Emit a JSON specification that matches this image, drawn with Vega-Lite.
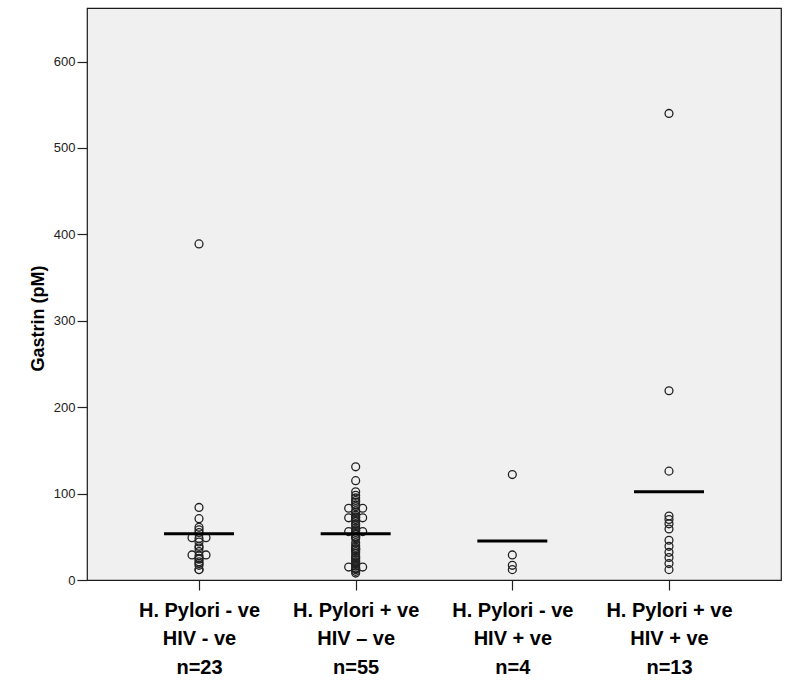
{
  "$schema": "https://vega.github.io/schema/vega-lite/v6.json",
  "width": 694,
  "height": 572,
  "autosize": {"type": "none"},
  "padding": {"left": 87, "top": 8, "right": 13, "bottom": 100},
  "background": "white",
  "config": {
    "view": {"fill": "#f0f0f0", "stroke": "#1a1a1a", "strokeWidth": 1.2},
    "font": "Liberation Sans"
  },
  "datasets": {
    "pts": [
      {"group": "H. Pylori - ve|HIV - ve|n=23", "gastrin": 389, "col": 0},
      {"group": "H. Pylori - ve|HIV - ve|n=23", "gastrin": 84, "col": 0},
      {"group": "H. Pylori - ve|HIV - ve|n=23", "gastrin": 71, "col": 0},
      {"group": "H. Pylori - ve|HIV - ve|n=23", "gastrin": 61, "col": 0},
      {"group": "H. Pylori - ve|HIV - ve|n=23", "gastrin": 58, "col": 0},
      {"group": "H. Pylori - ve|HIV - ve|n=23", "gastrin": 55, "col": 0},
      {"group": "H. Pylori - ve|HIV - ve|n=23", "gastrin": 49, "col": -1},
      {"group": "H. Pylori - ve|HIV - ve|n=23", "gastrin": 49, "col": 1},
      {"group": "H. Pylori - ve|HIV - ve|n=23", "gastrin": 48, "col": 0},
      {"group": "H. Pylori - ve|HIV - ve|n=23", "gastrin": 44, "col": 0},
      {"group": "H. Pylori - ve|HIV - ve|n=23", "gastrin": 39, "col": 0},
      {"group": "H. Pylori - ve|HIV - ve|n=23", "gastrin": 37, "col": 0},
      {"group": "H. Pylori - ve|HIV - ve|n=23", "gastrin": 33, "col": 0},
      {"group": "H. Pylori - ve|HIV - ve|n=23", "gastrin": 29, "col": -1},
      {"group": "H. Pylori - ve|HIV - ve|n=23", "gastrin": 29, "col": 1},
      {"group": "H. Pylori - ve|HIV - ve|n=23", "gastrin": 28, "col": 0},
      {"group": "H. Pylori - ve|HIV - ve|n=23", "gastrin": 25, "col": 0},
      {"group": "H. Pylori - ve|HIV - ve|n=23", "gastrin": 24, "col": 0},
      {"group": "H. Pylori - ve|HIV - ve|n=23", "gastrin": 21, "col": 0},
      {"group": "H. Pylori - ve|HIV - ve|n=23", "gastrin": 19, "col": 0},
      {"group": "H. Pylori - ve|HIV - ve|n=23", "gastrin": 17, "col": 0},
      {"group": "H. Pylori - ve|HIV - ve|n=23", "gastrin": 12, "col": 0},
      {"group": "H. Pylori - ve|HIV - ve|n=23", "gastrin": 12, "col": 0},

      {"group": "H. Pylori + ve|HIV – ve|n=55", "gastrin": 131, "col": 0},
      {"group": "H. Pylori + ve|HIV – ve|n=55", "gastrin": 115, "col": 0},
      {"group": "H. Pylori + ve|HIV – ve|n=55", "gastrin": 102, "col": 0},
      {"group": "H. Pylori + ve|HIV – ve|n=55", "gastrin": 98, "col": 0},
      {"group": "H. Pylori + ve|HIV – ve|n=55", "gastrin": 95, "col": 0},
      {"group": "H. Pylori + ve|HIV – ve|n=55", "gastrin": 92, "col": 0},
      {"group": "H. Pylori + ve|HIV – ve|n=55", "gastrin": 90, "col": 0},
      {"group": "H. Pylori + ve|HIV – ve|n=55", "gastrin": 87, "col": 0},
      {"group": "H. Pylori + ve|HIV – ve|n=55", "gastrin": 85, "col": 0},
      {"group": "H. Pylori + ve|HIV – ve|n=55", "gastrin": 83, "col": -1},
      {"group": "H. Pylori + ve|HIV – ve|n=55", "gastrin": 83, "col": 1},
      {"group": "H. Pylori + ve|HIV – ve|n=55", "gastrin": 80, "col": 0},
      {"group": "H. Pylori + ve|HIV – ve|n=55", "gastrin": 78, "col": 0},
      {"group": "H. Pylori + ve|HIV – ve|n=55", "gastrin": 75, "col": 0},
      {"group": "H. Pylori + ve|HIV – ve|n=55", "gastrin": 73, "col": 0},
      {"group": "H. Pylori + ve|HIV – ve|n=55", "gastrin": 72, "col": -1},
      {"group": "H. Pylori + ve|HIV – ve|n=55", "gastrin": 72, "col": 1},
      {"group": "H. Pylori + ve|HIV – ve|n=55", "gastrin": 72, "col": 0},
      {"group": "H. Pylori + ve|HIV – ve|n=55", "gastrin": 70, "col": 0},
      {"group": "H. Pylori + ve|HIV – ve|n=55", "gastrin": 68, "col": 0},
      {"group": "H. Pylori + ve|HIV – ve|n=55", "gastrin": 65, "col": 0},
      {"group": "H. Pylori + ve|HIV – ve|n=55", "gastrin": 63, "col": 0},
      {"group": "H. Pylori + ve|HIV – ve|n=55", "gastrin": 60, "col": 0},
      {"group": "H. Pylori + ve|HIV – ve|n=55", "gastrin": 58, "col": 0},
      {"group": "H. Pylori + ve|HIV – ve|n=55", "gastrin": 57, "col": 0},
      {"group": "H. Pylori + ve|HIV – ve|n=55", "gastrin": 56, "col": -1},
      {"group": "H. Pylori + ve|HIV – ve|n=55", "gastrin": 56, "col": 1},
      {"group": "H. Pylori + ve|HIV – ve|n=55", "gastrin": 55, "col": 0},
      {"group": "H. Pylori + ve|HIV – ve|n=55", "gastrin": 53, "col": 0},
      {"group": "H. Pylori + ve|HIV – ve|n=55", "gastrin": 50, "col": 0},
      {"group": "H. Pylori + ve|HIV – ve|n=55", "gastrin": 48, "col": 0},
      {"group": "H. Pylori + ve|HIV – ve|n=55", "gastrin": 50, "col": 0},
      {"group": "H. Pylori + ve|HIV – ve|n=55", "gastrin": 43, "col": 0},
      {"group": "H. Pylori + ve|HIV – ve|n=55", "gastrin": 40, "col": 0},
      {"group": "H. Pylori + ve|HIV – ve|n=55", "gastrin": 38, "col": 0},
      {"group": "H. Pylori + ve|HIV – ve|n=55", "gastrin": 36, "col": 0},
      {"group": "H. Pylori + ve|HIV – ve|n=55", "gastrin": 35, "col": 0},
      {"group": "H. Pylori + ve|HIV – ve|n=55", "gastrin": 33, "col": 0},
      {"group": "H. Pylori + ve|HIV – ve|n=55", "gastrin": 31, "col": 0},
      {"group": "H. Pylori + ve|HIV – ve|n=55", "gastrin": 36, "col": 0},
      {"group": "H. Pylori + ve|HIV – ve|n=55", "gastrin": 28, "col": 0},
      {"group": "H. Pylori + ve|HIV – ve|n=55", "gastrin": 26, "col": 0},
      {"group": "H. Pylori + ve|HIV – ve|n=55", "gastrin": 25, "col": 0},
      {"group": "H. Pylori + ve|HIV – ve|n=55", "gastrin": 23, "col": 0},
      {"group": "H. Pylori + ve|HIV – ve|n=55", "gastrin": 21, "col": 0},
      {"group": "H. Pylori + ve|HIV – ve|n=55", "gastrin": 20, "col": 0},
      {"group": "H. Pylori + ve|HIV – ve|n=55", "gastrin": 18, "col": 0},
      {"group": "H. Pylori + ve|HIV – ve|n=55", "gastrin": 16, "col": 0},
      {"group": "H. Pylori + ve|HIV – ve|n=55", "gastrin": 15, "col": -1},
      {"group": "H. Pylori + ve|HIV – ve|n=55", "gastrin": 15, "col": 1},
      {"group": "H. Pylori + ve|HIV – ve|n=55", "gastrin": 14, "col": 0},
      {"group": "H. Pylori + ve|HIV – ve|n=55", "gastrin": 13, "col": 0},
      {"group": "H. Pylori + ve|HIV – ve|n=55", "gastrin": 12, "col": 0},
      {"group": "H. Pylori + ve|HIV – ve|n=55", "gastrin": 10, "col": 0},
      {"group": "H. Pylori + ve|HIV – ve|n=55", "gastrin": 8, "col": 0},

      {"group": "H. Pylori - ve|HIV + ve|n=4", "gastrin": 122, "col": 0},
      {"group": "H. Pylori - ve|HIV + ve|n=4", "gastrin": 29, "col": 0},
      {"group": "H. Pylori - ve|HIV + ve|n=4", "gastrin": 17, "col": 0},
      {"group": "H. Pylori - ve|HIV + ve|n=4", "gastrin": 12, "col": 0},

      {"group": "H. Pylori + ve|HIV + ve|n=13", "gastrin": 540, "col": 0},
      {"group": "H. Pylori + ve|HIV + ve|n=13", "gastrin": 219, "col": 0},
      {"group": "H. Pylori + ve|HIV + ve|n=13", "gastrin": 126, "col": 0},
      {"group": "H. Pylori + ve|HIV + ve|n=13", "gastrin": 74, "col": 0},
      {"group": "H. Pylori + ve|HIV + ve|n=13", "gastrin": 70, "col": 0},
      {"group": "H. Pylori + ve|HIV + ve|n=13", "gastrin": 65, "col": 0},
      {"group": "H. Pylori + ve|HIV + ve|n=13", "gastrin": 59, "col": 0},
      {"group": "H. Pylori + ve|HIV + ve|n=13", "gastrin": 46, "col": 0},
      {"group": "H. Pylori + ve|HIV + ve|n=13", "gastrin": 39, "col": 0},
      {"group": "H. Pylori + ve|HIV + ve|n=13", "gastrin": 32, "col": 0},
      {"group": "H. Pylori + ve|HIV + ve|n=13", "gastrin": 26, "col": 0},
      {"group": "H. Pylori + ve|HIV + ve|n=13", "gastrin": 19, "col": 0},
      {"group": "H. Pylori + ve|HIV + ve|n=13", "gastrin": 12, "col": 0}
    ]
  },
  "data": {"name": "pts"},
  "layer": [
    {
      "mark": {"type": "point", "shape": "circle", "filled": false, "size": 62, "strokeWidth": 1.3, "color": "#222222", "opacity": 1},
      "encoding": {
        "x": {
          "field": "group", "type": "nominal",
          "sort": ["H. Pylori - ve|HIV - ve|n=23", "H. Pylori + ve|HIV – ve|n=55", "H. Pylori - ve|HIV + ve|n=4", "H. Pylori + ve|HIV + ve|n=13"],
          "scale": {"type": "point", "padding": 0.715},
          "axis": {
            "title": null, "labelAngle": 0, "domain": false, "grid": false,
            "tickSize": 10, "tickColor": "#222222", "tickWidth": 1.2,
            "labelExpr": "split(datum.label, '|')",
            "labelFont": "Liberation Sans", "labelFontSize": 20, "labelFontWeight": "bold",
            "labelColor": "#000000", "labelLineHeight": 28.5, "labelPadding": 10,
            "labelOverlap": false, "labelLimit": 300
          }
        },
        "xOffset": {"field": "col", "type": "quantitative", "scale": {"domain": [-1, 1], "range": [-7, 7]}},
        "y": {
          "field": "gastrin", "type": "quantitative",
          "scale": {"domain": [0, 662], "nice": false, "zero": true},
          "axis": {
            "values": [0, 100, 200, 300, 400, 500, 600],
            "title": "Gastrin (pM)", "titleFont": "Liberation Sans", "titleFontSize": 18, "titleFontWeight": "bold",
            "titleColor": "#000000", "titleX": -40, "titleY": 310,
            "domain": false, "grid": false,
            "tickSize": 10, "tickColor": "#222222", "tickWidth": 1.2,
            "labelFont": "Liberation Sans", "labelFontSize": 13, "labelColor": "#222222", "labelPadding": 2
          }
        }
      }
    },
    {
      "mark": {"type": "tick", "size": 70, "thickness": 3, "color": "#000000", "opacity": 1},
      "encoding": {
        "x": {
          "field": "group", "type": "nominal",
          "sort": ["H. Pylori - ve|HIV - ve|n=23", "H. Pylori + ve|HIV – ve|n=55", "H. Pylori - ve|HIV + ve|n=4", "H. Pylori + ve|HIV + ve|n=13"]
        },
        "y": {"aggregate": "mean", "field": "gastrin", "type": "quantitative"}
      }
    }
  ]
}
